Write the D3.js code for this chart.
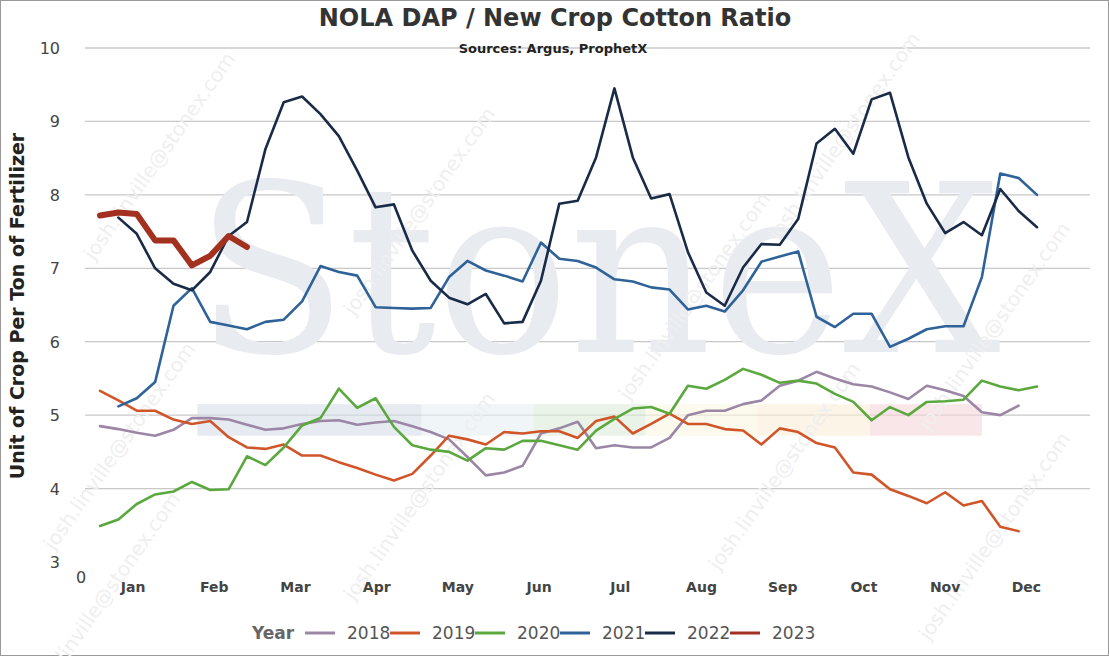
<!DOCTYPE html>
<html><head><meta charset="utf-8">
<script src="https://cdn.jsdelivr.net/npm/d3@7"></script>
<style>body{margin:0;background:#fff;font-family:"DejaVu Sans",Verdana,sans-serif}</style>
</head><body><div id="chart"></div>
<script>
var width = 1109, height = 656;
var margin = {top: 48, right: 19, bottom: 94, left: 85};

// weekly ratio values, week 1..52
var years = ["2018", "2019", "2020", "2021", "2022", "2023"];
var colors = ["#9c86a6", "#d0562a", "#5aa83e", "#2f6299", "#192b47", "#a3311f"];
var months = ["Jan","Feb","Mar","Apr","May","Jun","Jul","Aug","Sep","Oct","Nov","Dec"];
var yTicks = [3,4,5,6,7,8,9,10];

var v2018 = [4.85,4.81,4.76,4.72,4.80,4.96,4.96,4.94,4.87,4.80,4.82,4.88,4.92,4.93,4.87,4.90,4.92,4.85,4.77,4.67,4.43,4.18,4.22,4.31,4.75,4.82,4.91,
  4.55,4.59,4.56,4.56,4.69,5.00,5.06,5.06,5.15,5.20,5.40,5.47,5.59,5.50,5.42,5.39,5.31,5.22,5.40,5.34,5.26,5.04,5.00,5.13];
var v2019 = [5.33,5.20,5.06,5.06,4.94,4.88,4.92,4.70,4.56,4.54,4.60,4.45,4.45,4.36,4.28,4.19,4.11,4.20,4.45,4.72,4.67,4.60,4.77,4.75,4.78,4.78,4.69,
  4.92,4.98,4.75,4.88,5.02,4.88,4.88,4.81,4.79,4.60,4.82,4.77,4.62,4.56,4.22,4.19,3.99,3.90,3.80,3.95,3.77,3.83,3.48,3.42];
var v2020 = [3.49,3.58,3.79,3.92,3.96,4.09,3.98,3.99,4.44,4.32,4.56,4.86,4.96,5.36,5.10,5.23,4.84,4.59,4.53,4.50,4.38,4.55,4.53,4.65,4.65,4.59,4.53,
  4.79,4.95,5.09,5.11,5.02,5.40,5.36,5.48,5.63,5.55,5.44,5.47,5.43,5.29,5.18,4.93,5.11,5.00,5.18,5.19,5.21,5.47,5.39,5.34,5.39];
var v2021 = [null,5.12,5.23,5.45,6.49,6.73,6.27,6.22,6.17,6.27,6.30,6.55,7.03,6.95,6.90,6.47,6.46,6.45,6.46,6.88,7.10,6.97,6.90,6.82,7.35,7.13,7.10,
  7.01,6.85,6.82,6.74,6.71,6.44,6.49,6.41,6.70,7.09,7.16,7.23,6.34,6.20,6.38,6.38,5.93,6.04,6.17,6.21,6.21,6.88,8.29,8.23,8.00];
var v2022 = [null,7.69,7.47,7.00,6.79,6.70,6.95,7.44,7.63,8.62,9.26,9.34,9.10,8.80,8.33,7.83,7.87,7.24,6.83,6.60,6.51,6.65,6.25,6.27,6.83,7.88,7.92,
  8.51,9.45,8.51,7.95,8.01,7.22,6.67,6.49,7.01,7.33,7.32,7.67,8.70,8.90,8.56,9.30,9.39,8.51,7.88,7.48,7.63,7.45,8.08,7.78,7.56];
var v2023 = [7.72,7.76,7.74,7.38,7.38,7.04,7.17,7.44,7.29];
var series = [v2018, v2019, v2020, v2021, v2022, v2023];

// faint coloured band behind the lines
var bandColors = ["#d5dde8","#d5dde8","#e6eef4","#dcebd8","#f8f6e0","#fbecd8","#f3d6d8"];

var svg = d3.select("#chart").append("svg").attr("width", width).attr("height", height);
svg.append("rect").attr("x",0.5).attr("y",0.5).attr("width",width-1).attr("height",height-1)
  .attr("fill","#fff").attr("stroke","#9a9a9a");

var x = d3.scaleLinear().domain([1, 52]).range([100, 1037]);
var y = d3.scaleLinear().domain([3, 10]).range([562, 48]);

// grid
svg.append("g").selectAll("line").data(yTicks.slice(1)).enter().append("line")
  .attr("x1", margin.left).attr("x2", width - margin.right)
  .attr("y1", function (d) { return y(d); }).attr("y2", function (d) { return y(d); })
  .attr("stroke", "#c8c8c8").attr("stroke-width", 1.3);

// watermark
svg.append("text").attr("x", 598).attr("y", 352).attr("text-anchor", "middle")
  .attr("font-family", "DejaVu Serif, Liberation Serif, serif").attr("font-size", 235)
  .attr("textLength", 805).attr("lengthAdjust", "spacingAndGlyphs")
  .attr("fill", "#e8ecf1").text("StoneX");
svg.selectAll("rect.band").data(bandColors).enter().append("rect")
  .attr("x", function (d, i) { return x(6.3 + i * 6.1); }).attr("width", x(7.1) - x(1))
  .attr("y", y(5.15)).attr("height", y(4.72) - y(5.15)).attr("fill", function (d) { return d; }).attr("opacity", 0.6);
var marks = [[165,160],[425,215],[850,140],[125,450],[425,500],[790,470],[1000,330],[1000,540],[700,300],[110,600]];
svg.append("g").selectAll("text").data(marks).enter().append("text")
  .attr("transform", function (d) { return "translate(" + d[0] + "," + d[1] + ") rotate(-55)"; })
  .attr("text-anchor", "middle").attr("font-size", 20).attr("fill", "#efefef")
  .text("josh.linville@stonex.com");

// lines
var line = d3.line().defined(function (d) { return d != null; })
  .x(function (d, i) { return x(i + 1); }).y(function (d) { return y(d); });
svg.append("g").selectAll("path").data(series).enter().append("path")
  .attr("d", function (d) { return line(d); }).attr("fill", "none")
  .attr("stroke", function (d, i) { return colors[i]; })
  .attr("stroke-width", function (d, i) { return i == 5 ? 6 : 2.6; })
  .attr("stroke-linecap", "round").attr("stroke-linejoin", "round");

// y axis labels
svg.append("g").selectAll("text").data(yTicks).enter().append("text")
  .attr("x", 60).attr("y", function (d) { return y(d) + 6; }).attr("text-anchor", "end")
  .attr("font-size", 16).attr("fill", "#444").text(function (d) { return d; });
svg.append("text").attr("x", 76).attr("y", 583).attr("font-size", 16).attr("fill", "#444").text("0");

// month labels
svg.append("g").selectAll("text").data(months).enter().append("text")
  .attr("x", function (d, i) { return x(2.8 + i * 4.42); }).attr("y", 592)
  .attr("text-anchor", "middle").attr("font-size", 14).attr("font-weight", "bold").attr("fill", "#444")
  .text(function (d) { return d; });

svg.append("text").attr("transform", "translate(24,306) rotate(-90)").attr("text-anchor", "middle")
  .attr("font-size", 19).attr("font-weight", "bold").attr("fill", "#222").text("Unit of Crop Per Ton of Fertilizer");
svg.append("text").attr("x", 555).attr("y", 26).attr("text-anchor", "middle")
  .attr("font-size", 24).attr("font-weight", "bold").attr("fill", "#333").text("NOLA DAP / New Crop Cotton Ratio");
svg.append("text").attr("x", 553).attr("y", 53).attr("text-anchor", "middle")
  .attr("font-size", 13).attr("font-weight", "bold").attr("fill", "#222").text("Sources: Argus, ProphetX");

// legend
var lg = svg.append("g").attr("transform", "translate(0,633)");
lg.append("text").attr("x", 252).attr("y", 6).attr("font-size", 17).attr("font-weight", "bold").attr("fill", "#666").text("Year");
var item = lg.selectAll("g.item").data(years).enter().append("g")
  .attr("transform", function (d, i) { return "translate(" + (305 + i * 85) + ",0)"; });
item.append("line").attr("x1", 0).attr("x2", 30).attr("stroke-width", 3)
  .attr("stroke", function (d, i) { return colors[i]; });
item.append("text").attr("x", 42).attr("y", 6).attr("font-size", 17).attr("fill", "#555").text(function (d) { return d; });
</script></body></html>
